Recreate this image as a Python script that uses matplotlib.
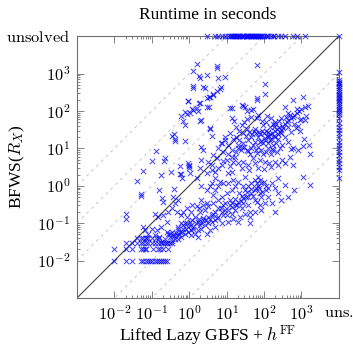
import matplotlib

matplotlib.use('Agg')
import matplotlib.pyplot as plt
from matplotlib.ticker import FixedLocator, NullFormatter
import numpy as np

matplotlib.rcParams['mathtext.fontset'] = 'cm'
matplotlib.rcParams['font.family'] = 'Liberation Serif'

UNS = 1e4  # "unsolved" is drawn at the edge of the axes

# runtimes in seconds: x = Lifted Lazy GBFS + hFF, y = BFWS(R_X)
upper_x = [1.64, 5.6, 5.6, 1.28, 1.8, 3.0, 6.0, 9.3, 1.28, 2.4, 6.9, 5.7, 4.4, 3.6, 2.9,
           0.92, 1.8, 1.57, 1.28, 1.04, 0.77, 0.62, 3.4, 2.1, 0.39, 0.43, 0.77, 3.7, 2.1,
           0.13, 0.22, 0.1, 0.06, 0.04, 0.05, 0.05, 0.02, 0.02, 0.18, 0.32, 0.16, 0.19,
           0.6, 0.65, 1.0, 0.39, 0.37, 0.12, 0.2, 1.9, 1.25, 2.6, 4.3, 3.4, 6.6, 0.92,
           1.93, 3.0, 1.18, 1.7, 0.87, 0.68, 0.77, 1.9, 0.35, 0.41, 2.3, 0.21, 0.58,
           0.56, 0.98, 65, 13.8, 27, 34, 50, 65, 107, 107]
upper_y = [1780, 1610, 1400, 1180, 850, 905, 740, 815, 460, 440, 425, 340, 275, 240, 216,
           187, 165, 117, 105, 89, 95, 73, 128, 57, 24, 18, 16, 32, 11,
           8.6, 5.5, 4.7, 2.5, 1.36, 0.62, 0.54, 0.18, 0.13, 1.9, 2.3, 0.77, 0.46,
           2.1, 1.6, 3.4, 0.8, 0.51, 0.18, 0.37, 750, 407, 407, 265, 235, 383, 183,
           163, 126, 111, 99, 83, 54, 42, 54, 21, 16, 9.2, 4.6, 2.1,
           3.4, 2.9, 1680, 119, 134, 99, 112, 224, 520, 280]

main_x = [12.3, 25, 31, 46, 63, 13.5, 16, 35, 34, 25, 18, 56, 66, 95, 118, 150, 185, 195, 280,
          3.7, 4.0, 7.3, 9, 11, 6, 8, 10.6, 13.5, 5.7, 4.4, 3.2, 4, 2.1, 1.9, 7.3, 12.3,
          13.5, 11, 8.2, 6.6, 4.9, 3.6, 2.9, 1.04, 1.0,
          18, 22, 28, 38, 46, 56, 70, 76, 95, 105, 128, 140, 170, 160, 210, 240, 290, 360,
          445, 540, 600, 1100, 1600, 1650, 25, 34, 42, 51, 63, 76, 105, 135, 195, 240, 360,
          600, 56, 38, 28, 20, 16.5, 15, 20,
          1500, 1230, 1000, 870, 740, 650, 600, 520, 445, 410, 360, 300, 255, 225, 195, 165,
          140, 120, 105, 85, 370, 600, 1100, 1230, 540, 445, 650, 900, 115, 140, 200, 290,
          445, 490, 740, 0.94, 1.6, 2.1, 2.9, 4, 4.9, 6, 4.4,
          22, 27, 33, 40, 48, 55, 60, 72, 80, 90, 100, 110, 125, 135, 150, 180, 200, 230, 260,
          320, 20, 24, 30, 37, 45, 52, 60, 68, 82, 95, 110, 130, 150, 175, 220, 260, 300,
          15, 12, 9, 7, 18, 14, 10, 8, 6, 5, 4, 25, 40, 70, 100, 150, 300, 500, 800, 1200,
          900, 700, 1300, 1000, 800, 380, 250, 170, 90, 70, 45, 30]
main_y = [123, 145, 125, 108, 200, 66, 55, 60, 33, 42, 37, 33, 63, 42, 75, 64, 38, 46, 31,
          34, 21, 13.5, 16.5, 12.5, 10, 8, 7, 9, 5.4, 6.6, 4.4, 3.6, 4.8, 2.9, 3.6, 3.3,
          2.4, 2.2, 1.2, 1.3, 1.6, 0.96, 2.2, 2.2, 3.5,
          20, 16.5, 13.5, 16.5, 20, 15, 20, 15, 13.5, 17, 13.5, 16.5, 12.3, 9.5, 13.5, 18, 25, 20,
          15, 9.5, 10.5, 11.5, 12, 7, 11, 9, 7, 5.4, 7.3, 4.8, 4.4, 4, 4.4, 3.6, 4,
          3.6, 4, 3.6, 4.4, 4, 6, 4.4, 10,
          136, 125, 110, 100, 90, 80, 70, 63, 57, 50, 46, 40, 38, 33, 30, 26,
          24, 21, 19, 16, 125, 200, 240, 57, 28, 38, 46, 57, 50, 38, 50, 63,
          90, 76, 115, 4, 1.6, 0.96, 0.77, 1.17, 0.77, 0.96, 0.56,
          30, 25, 22, 28, 24, 30, 25, 28, 24, 30, 25, 30, 28, 22, 18, 22, 20, 24, 28,
          35, 12, 9, 11, 8.5, 10, 12, 9, 11, 9, 7, 8, 10, 7, 9, 8, 10, 12,
          18, 25, 20, 14, 8, 6, 5, 4.5, 3, 2.4, 2.7, 3, 2.6, 3, 2.8, 3.2, 5, 6, 9, 18,
          30, 35, 75, 60, 40, 70, 55, 45, 55, 80, 70, 50]

lower_x = [70, 77, 85, 67, 56, 46, 38, 28, 20, 18, 13.5, 11, 8, 6, 4.9, 4, 3.2, 2.6, 2.1, 1.7,
           1.4, 1.15, 0.94, 0.77, 0.62, 0.51, 0.42, 0.34, 195, 240, 128, 160, 105, 85, 56,
           42, 31, 23, 15, 11, 7.3, 4.9, 3.6, 42, 195, 360, 1100, 1650, 650, 445, 290, 2.1,
           1.6, 1.15, 0.85, 0.62, 1.04, 0.77, 13.5, 16.5, 10, 7.3, 6, 4.4, 3.2, 2.6, 1.9,
           1.4, 9, 12, 22, 31, 38, 46, 56, 28, 16.5, 25, 38, 63, 85, 115, 160, 240, 115, 76,
           56, 6, 4.4, 3.2, 2.3, 1.7, 1.28, 0.94, 0.7, 0.56, 0.46, 0.38, 0.3, 0.22, 0.27,
           0.62, 0.51, 2.1, 2.9, 1.7, 1.15, 7.3, 10, 13.5, 20, 42, 76, 28, 20, 31, 11, 15,
           0.15, 0.2, 0.27, 0.34, 0.42, 0.51, 0.46, 0.25, 0.18, 0.135, 0.1, 0.08, 0.065,
           0.06, 0.072, 0.12, 0.16, 0.18, 0.25,
           0.25, 0.3, 0.35, 0.4, 0.45, 0.5, 0.55, 0.65, 0.7, 0.8, 0.9, 1.1, 1.2, 1.3, 1.5,
           1.8, 2.0, 2.4, 2.8, 3.5, 4.0, 5, 5.5, 7, 8, 9, 12, 14, 17, 19, 24, 26, 33, 36,
           44, 50, 60, 65, 75, 90, 100, 130, 3, 2.4, 1.8, 1.2, 0.9, 0.7]
lower_y = [1.74, 1.43, 1.17, 0.96, 0.77, 0.63, 0.51, 0.46, 0.38, 0.3, 0.27, 0.22, 0.17, 0.15,
           0.12, 0.11, 0.1, 0.089, 0.072, 0.065, 0.053, 0.048, 0.059, 0.053, 0.043, 0.037,
           0.037, 0.034, 0.85, 0.63, 0.51, 0.34, 0.34, 0.22, 0.2, 0.15, 0.18, 0.15, 0.13,
           0.11, 0.1, 0.08, 0.065, 0.1, 0.2, 1.06, 1.74, 1.06, 0.77, 0.51, 0.42, 0.42,
           0.28, 0.2, 0.25, 0.17, 0.11, 0.1, 0.77, 0.96, 0.63, 0.51, 0.42, 0.34, 0.28, 0.22,
           0.2, 0.15, 0.34, 0.42, 0.63, 0.77, 0.96, 1.17, 1.43, 0.34, 0.22, 0.25, 0.3, 0.37,
           0.51, 0.77, 1.17, 1.6, 1.0, 0.63, 0.42, 0.25, 0.18, 0.15, 0.12, 0.11, 0.08, 0.08,
           0.072, 0.059, 0.048, 0.048, 0.043, 0.037, 0.053, 0.1, 0.08, 0.1, 0.053, 0.043,
           0.065, 0.2, 0.17, 0.18, 0.11, 0.2, 0.3, 0.96, 1.3, 1.74, 1.17, 1.43,
           0.15, 0.17, 0.2, 0.25, 0.34, 0.42, 0.2, 0.11, 0.08, 0.065, 0.072, 0.053, 0.065,
           0.08, 0.04, 0.048, 0.043, 0.032, 0.029,
           0.06, 0.05, 0.06, 0.045, 0.055, 0.07, 0.05, 0.06, 0.09, 0.07, 0.1, 0.09, 0.12, 0.07,
           0.1, 0.13, 0.09, 0.14, 0.12, 0.13, 0.17, 0.2, 0.14, 0.25, 0.3, 0.22, 0.3, 0.35,
           0.45, 0.3, 0.4, 0.55, 0.5, 0.7, 0.8, 0.55, 0.9, 1.2, 0.9, 0.7, 1.3, 0.9, 0.35,
           0.3, 0.25, 0.3, 0.15, 0.2]

# the quick tasks, times rounded to 0.01 s
row01_x = [0.01, 0.02, 0.03, 0.05, 0.06, 0.07, 0.08, 0.09, 0.1, 0.12, 0.14, 0.16, 0.18, 0.2,
           0.22, 0.25]
row02_x = [0.01, 0.02, 0.03, 0.05, 0.06, 0.065, 0.07, 0.11, 0.15, 0.17, 0.2, 0.27]
row03_x = [0.02, 0.03, 0.04, 0.05, 0.06, 0.07, 0.08, 0.1, 0.12, 0.15, 0.18, 0.2, 0.22,
           0.25, 0.3, 0.35]
row04_x = [0.04, 0.05, 0.06, 0.07, 0.08, 0.1, 0.13, 0.16]

# only BFWS solved (x unsolved) / only lifted GBFS solved (y unsolved)
uns_x_y = [1100, 660, 600, 570, 520, 450, 400, 360, 320, 290, 260, 240, 220, 200, 180, 160,
           145, 130, 115, 105, 95, 85, 64, 47, 38, 31, 25, 20, 15, 12, 10, 8, 6.6, 4.9, 4,
           3.2, 2.6, 1.6, UNS]
uns_y_x = [2.9, 4.9, 6.0, 7.3, 9.0, 11, 12, 13, 14, 15, 16, 17, 18, 19, 20, 22, 23, 25, 26,
           28, 30, 32, 34, 36, 38, 40, 42, 45, 48, 52, 55, 58, 62, 66, 70, 75, 80, 85, 90,
           100, 110, 120, 130, 150, 170, 190, 240, 290, 360, 600, 750, 1230]

xs = (upper_x + main_x + lower_x + row01_x + row02_x + row03_x + row04_x
      + [UNS] * len(uns_x_y) + uns_y_x)
ys = (upper_y + main_y + lower_y + [0.01] * len(row01_x) + [0.02] * len(row02_x)
      + [0.03] * len(row03_x) + [0.04] * len(row04_x) + uns_x_y + [UNS] * len(uns_y_x))

fig = plt.figure(figsize=(3.53, 3.47), dpi=100)
ax = fig.add_axes([0.218, 0.141, 0.742, 0.755])

lo, hi = 1e-3, UNS
grid = np.array([lo, hi])
for k in [-3, -2, -1, 1, 2, 3]:
    ax.plot(grid, grid * 10.0**k, color='#c8c8c8', lw=0.7, dashes=(3, 4), zorder=1)
ax.plot(grid, grid, color='#404040', lw=0.8, zorder=2)

ax.scatter(xs, ys, marker='x', s=15, color='#0000ff', alpha=0.75, linewidths=0.7,
           clip_on=False, zorder=3)

ax.set_xscale('log')
ax.set_yscale('log')
ax.set_xlim(lo, hi)
ax.set_ylim(lo, hi)

major = [1e-2, 1e-1, 1e0, 1e1, 1e2, 1e3, UNS]
labels = [r'$10^{-2}$', r'$10^{-1}$', r'$10^{0}$', r'$10^{1}$', r'$10^{2}$', r'$10^{3}$']
minor = [m * 10.0**d for d in range(-2, 3) for m in range(2, 10)]
ax.set_xticks(major)
ax.set_xticklabels(labels + [r'$\mathrm{uns.}$'])
ax.set_yticks(major)
ax.set_yticklabels(labels + [r'$\mathrm{unsolved}$'])
for axis in (ax.xaxis, ax.yaxis):
    axis.set_minor_locator(FixedLocator(minor))
    axis.set_minor_formatter(NullFormatter())

ax.tick_params(which='both', direction='in', top=True, right=True, colors='#707070',
               labelcolor='black', labelsize=11.8, width=0.6)
ax.tick_params(which='major', length=5, pad=5)
ax.tick_params(which='minor', length=2.5)
for sp in ax.spines.values():
    sp.set_color('#707070')
    sp.set_linewidth(0.8)

ax.set_title('Runtime in seconds', fontsize=12.5, pad=12)
ax.set_xlabel(r'Lifted Lazy GBFS + $h^{\mathrm{FF}}$', fontsize=12.5, va='top')
ax.xaxis.set_label_coords(0.5, -0.097)
ax.set_ylabel(r'BFWS($R_X$)', fontsize=12.5)
ax.yaxis.set_label_coords(-0.19, 0.5)

fig.savefig('out.png', dpi=100)
